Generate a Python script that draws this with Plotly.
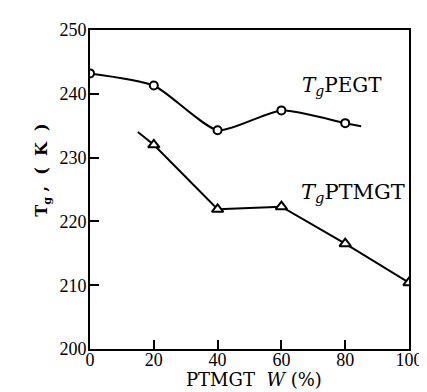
import plotly.graph_objects as go

# Data
w_pegt = [0, 20, 40, 60, 80]
tg_pegt = [243.2, 241.3, 234.3, 237.4, 235.4]
w_pegt_line = [0, 20, 40, 60, 80, 85]
tg_pegt_line = [243.2, 241.3, 234.3, 237.4, 235.4, 234.9]

w_ptmgt = [20, 40, 60, 80, 100]
tg_ptmgt = [232.0, 221.9, 222.3, 216.5, 210.4]
w_ptmgt_line = [15, 20, 40, 60, 80, 100]
tg_ptmgt_line = [234.0, 232.0, 221.9, 222.3, 216.5, 210.4]

x_ticks = [0, 20, 40, 60, 80, 100]
y_ticks = [200, 210, 220, 230, 240, 250]

serif = "Liberation Serif, Times New Roman, serif"
wide_serif = "DejaVu Serif, serif"

ML, MR, MT, MB = 82, 15, 20, 51

fig = go.Figure()
fig.add_trace(go.Scatter(x=w_pegt_line, y=tg_pegt_line, mode="lines",
                         line=dict(color="black", width=2, shape="spline", smoothing=0.6),
                         hoverinfo="skip", showlegend=False))
fig.add_trace(go.Scatter(x=w_ptmgt_line, y=tg_ptmgt_line, mode="lines",
                         line=dict(color="black", width=2),
                         hoverinfo="skip", showlegend=False))
fig.add_trace(go.Scatter(x=w_pegt, y=tg_pegt, mode="markers",
                         marker=dict(symbol="circle", size=8, color="white",
                                     line=dict(color="black", width=2)),
                         showlegend=False))
fig.add_trace(go.Scatter(x=w_ptmgt, y=tg_ptmgt, mode="markers",
                         marker=dict(symbol="triangle-up", size=10, color="white",
                                     line=dict(color="black", width=2)),
                         showlegend=False))

fig.update_layout(
    width=427, height=392,
    margin=dict(l=ML, r=MR, t=MT, b=MB),
    paper_bgcolor="white", plot_bgcolor="white",
    font=dict(family=serif, color="black", size=18),
    xaxis=dict(range=[0, 100], tickvals=x_ticks, ticktext=[str(v) for v in x_ticks],
               ticks="inside", ticklen=9, tickwidth=1.5, tickcolor="black",
               showline=True, linecolor="black", linewidth=2, mirror=True,
               showgrid=False, zeroline=False, tickfont=dict(size=18),
               ticklabelstandoff=-7),
    yaxis=dict(range=[200, 250], tickvals=y_ticks, ticktext=[str(v) for v in y_ticks],
               ticks="inside", ticklen=9, tickwidth=1.5, tickcolor="black",
               showline=True, linecolor="black", linewidth=2, mirror=True,
               showgrid=False, zeroline=False, tickfont=dict(size=18),
               ticklabelstandoff=-2),
    annotations=[
        dict(text="<i>T</i><sub><i>g</i></sub>PEGT", x=299, y=76,
             showarrow=False, font=dict(size=20, family=wide_serif), xanchor="left", yanchor="middle"),
        dict(text="<i>T</i><sub><i>g</i></sub>PTMGT", x=298, y=184,
             showarrow=False, font=dict(size=21, family=wide_serif), xanchor="left", yanchor="middle"),
        dict(text="<b>T<sub>g</sub> ,  (  K  )</b>", x=20, y=161, showarrow=False,
             textangle=-90, font=dict(size=16, family=wide_serif)),
        dict(text="PTMGT  <i>W</i> (%)", x=252, y=384, showarrow=False,
             font=dict(size=18, family=wide_serif)),
    ],
)

# convert pixel annotation positions to paper coords
pw, ph = 427 - ML - MR, 392 - MT - MB
for a in fig.layout.annotations:
    a.xref = "paper"; a.yref = "paper"
    a.x = (a.x - ML) / pw
    a.y = 1 - (a.y - MT) / ph

fig.write_html("out.html")
